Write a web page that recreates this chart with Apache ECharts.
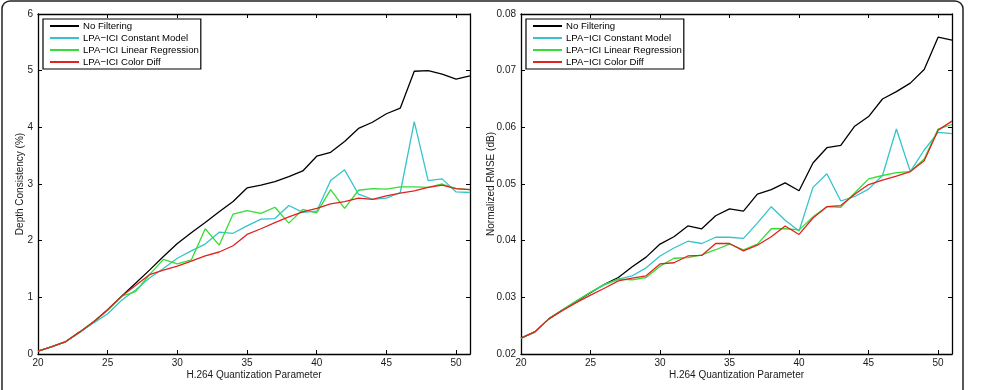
<!DOCTYPE html>
<html>
<head>
<meta charset="utf-8">
<script src="https://cdn.jsdelivr.net/npm/echarts@6/dist/echarts.min.js"></script>
<style>
  html, body { margin: 0; padding: 0; background: #fff; }
  #chart { width: 985px; height: 390px; }
</style>
</head>
<body>
<div id="chart"></div>
<script>
let qp = [20, 21, 22, 23, 24, 25, 26, 27, 28, 29, 30, 31, 32, 33, 34, 35,
  36, 37, 38, 39, 40, 41, 42, 43, 44, 45, 46, 47, 48, 49, 50, 51];

let seriesNames = ['No Filtering', 'LPA\u2212ICI Constant Model', 'LPA\u2212ICI Linear Regression', 'LPA\u2212ICI Color Diff'];
let seriesColors = ['#000000', '#35c4cc', '#35dd35', '#e0231f'];

// depth consistency (%)
let depthNoFilter = [0.05, 0.13, 0.22, 0.39, 0.57, 0.78, 1.02, 1.25, 1.48, 1.72, 1.95, 2.14, 2.32, 2.51, 2.69, 2.93,
  2.98, 3.04, 3.13, 3.23, 3.49, 3.56, 3.75, 3.98, 4.09, 4.24, 4.34, 4.99, 5.00, 4.94, 4.85, 4.91];
let depthConstant = [0.05, 0.13, 0.22, 0.38, 0.55, 0.71, 0.95, 1.13, 1.34, 1.51, 1.69, 1.82, 1.94, 2.15, 2.13, 2.26,
  2.38, 2.39, 2.62, 2.50, 2.52, 3.06, 3.25, 2.82, 2.73, 2.75, 2.85, 4.10, 3.06, 3.09, 2.86, 2.85];
let depthLinear = [0.05, 0.13, 0.22, 0.39, 0.57, 0.77, 1.02, 1.10, 1.40, 1.67, 1.59, 1.66, 2.21, 1.92, 2.47, 2.53,
  2.48, 2.59, 2.31, 2.55, 2.49, 2.90, 2.57, 2.89, 2.92, 2.91, 2.95, 2.95, 2.94, 3.00, 2.92, 2.90];
let depthColorDiff = [0.05, 0.13, 0.22, 0.39, 0.57, 0.78, 1.02, 1.21, 1.40, 1.48, 1.55, 1.64, 1.73, 1.80, 1.91, 2.11,
  2.21, 2.32, 2.42, 2.51, 2.57, 2.65, 2.69, 2.75, 2.73, 2.79, 2.84, 2.88, 2.94, 2.98, 2.92, 2.90];

// normalized RMSE (dB)
let rmseNoFilter = [0.0228, 0.0239, 0.0262, 0.0278, 0.0293, 0.0308, 0.0323, 0.0335, 0.0354, 0.0371, 0.0394, 0.0407,
  0.0426, 0.0421, 0.0444, 0.0456, 0.0452, 0.0482, 0.0490, 0.0502, 0.0488, 0.0537, 0.0564, 0.0568,
  0.0602, 0.0619, 0.0650, 0.0663, 0.0678, 0.0702, 0.0759, 0.0754];
let rmseConstant = [0.0228, 0.0239, 0.0262, 0.0278, 0.0294, 0.0309, 0.0322, 0.0332, 0.0338, 0.0352, 0.0373, 0.0387,
  0.0399, 0.0395, 0.0406, 0.0406, 0.0404, 0.0431, 0.0460, 0.0436, 0.0417, 0.0494, 0.0518, 0.0470,
  0.0478, 0.0491, 0.0515, 0.0597, 0.0522, 0.0560, 0.0591, 0.0589];
let rmseLinear = [0.0228, 0.0239, 0.0262, 0.0278, 0.0294, 0.0309, 0.0323, 0.0332, 0.0331, 0.0335, 0.0355, 0.0369,
  0.0370, 0.0375, 0.0384, 0.0394, 0.0384, 0.0394, 0.0421, 0.0421, 0.0419, 0.0442, 0.0460, 0.0459,
  0.0484, 0.0509, 0.0515, 0.0520, 0.0522, 0.0544, 0.0597, 0.0605];
let rmseColorDiff = [0.0228, 0.0239, 0.0262, 0.0277, 0.0291, 0.0304, 0.0316, 0.0329, 0.0334, 0.0338, 0.0359, 0.0361,
  0.0373, 0.0374, 0.0395, 0.0395, 0.0382, 0.0392, 0.0407, 0.0426, 0.0411, 0.0440, 0.0460, 0.0462,
  0.0482, 0.0499, 0.0507, 0.0514, 0.0522, 0.0541, 0.0595, 0.0611];

let fontFamily = '"Liberation Sans", Arial, sans-serif';
let textColor = '#1a1a1a';

function makeXAxis(gridIndex, position) {
  let bottom = position === 'bottom';
  return {
    type: 'value',
    gridIndex: gridIndex,
    position: position,
    min: 20,
    max: 51,
    interval: 5,
    name: bottom ? 'H.264 Quantization Parameter' : '',
    nameLocation: 'middle',
    nameGap: 16,
    nameMoveOverlap: false,
    nameTextStyle: { fontFamily: fontFamily, fontSize: 10, color: textColor },
    axisLine: { show: true, onZero: false, lineStyle: { color: '#000', width: 1.3 } },
    axisTick: { show: true, inside: true, length: 4, lineStyle: { color: '#000', width: 1 } },
    axisLabel: {
      show: bottom,
      showMaxLabel: false,
      margin: 4,
      fontFamily: fontFamily,
      fontSize: 10,
      color: textColor
    },
    splitLine: { show: false }
  };
}

function makeYAxis(gridIndex, position, min, max, interval, name, nameGap, digits) {
  let left = position === 'left';
  return {
    type: 'value',
    gridIndex: gridIndex,
    position: position,
    min: min,
    max: max,
    interval: interval,
    name: left ? name : '',
    nameLocation: 'middle',
    nameGap: nameGap,
    nameMoveOverlap: false,
    nameTextStyle: { fontFamily: fontFamily, fontSize: 10, color: textColor },
    axisLine: { show: true, onZero: false, lineStyle: { color: '#000', width: 1.3 } },
    axisTick: { show: true, inside: true, length: 4, lineStyle: { color: '#000', width: 1 } },
    axisLabel: {
      show: left,
      margin: 5,
      fontFamily: fontFamily,
      fontSize: 10,
      color: textColor,
      formatter: v => digits ? v.toFixed(digits) : String(v)
    },
    splitLine: { show: false }
  };
}

function makeSeries(values, idx, axisIndex) {
  return {
    name: seriesNames[idx],
    type: 'line',
    xAxisIndex: axisIndex,
    yAxisIndex: axisIndex,
    data: qp.map((q, i) => [q, values[i]]),
    symbol: 'none',
    lineStyle: { color: seriesColors[idx], width: 1.3 },
    itemStyle: { color: seriesColors[idx] },
    z: 2 + idx,
    animation: false
  };
}

function makeLegend(left) {
  return {
    orient: 'vertical',
    left: left,
    top: 19,
    data: seriesNames,
    itemWidth: 29,
    itemHeight: 10,
    itemGap: 2,
    padding: [2, 2, 2, 6],
    backgroundColor: '#fff',
    borderColor: '#000',
    borderWidth: 1.2,
    borderRadius: 0,
    selectedMode: false,
    itemStyle: { opacity: 0 },
    textStyle: { fontFamily: fontFamily, fontSize: 9.6, color: '#000', padding: [0, 0, 0, -1] }
  };
}

let chart = echarts.init(document.getElementById('chart'));

let option = {
  backgroundColor: '#fff',
  animation: false,
  graphic: [{
    type: 'rect',
    shape: { x: 2, y: 1, width: 961, height: 420, r: 8 },
    style: { fill: 'none', stroke: '#222', lineWidth: 1.5 },
    z: -1
  }],
  grid: [
    { left: 38, top: 14, width: 432, height: 340, show: true, backgroundColor: '#fff', borderColor: '#000', borderWidth: 0 },
    { left: 521, top: 14, width: 431, height: 340, show: true, backgroundColor: '#fff', borderColor: '#000', borderWidth: 0 }
  ],
  xAxis: [
    makeXAxis(0, 'bottom'),
    makeXAxis(0, 'top'),
    makeXAxis(1, 'bottom'),
    makeXAxis(1, 'top')
  ],
  yAxis: [
    makeYAxis(0, 'left', 0, 6, 1, 'Depth Consistency (%)', 13, 0),
    makeYAxis(0, 'right', 0, 6, 1, '', 0, 0),
    makeYAxis(1, 'left', 0.02, 0.08, 0.01, 'Normalized RMSE (dB)', 25, 2),
    makeYAxis(1, 'right', 0.02, 0.08, 0.01, '', 0, 2)
  ],
  legend: [makeLegend(43), makeLegend(526)],
  series: [
    makeSeries(depthNoFilter, 0, 0),
    makeSeries(depthConstant, 1, 0),
    makeSeries(depthLinear, 2, 0),
    makeSeries(depthColorDiff, 3, 0),
    makeSeries(rmseNoFilter, 0, 2),
    makeSeries(rmseConstant, 1, 2),
    makeSeries(rmseLinear, 2, 2),
    makeSeries(rmseColorDiff, 3, 2)
  ]
};

chart.setOption(option);
</script>
</body>
</html>
